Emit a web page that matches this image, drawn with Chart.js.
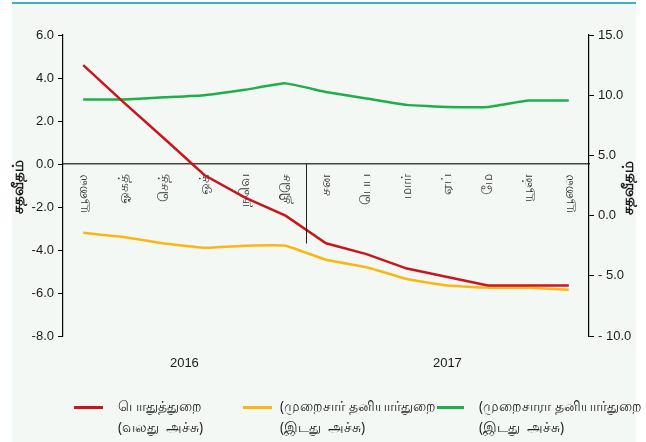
<!DOCTYPE html>
<html>
<head>
<meta charset="utf-8">
<script src="https://cdn.jsdelivr.net/npm/chart.js@4/dist/chart.umd.min.js"></script>
<style>
  html, body { margin: 0; padding: 0; background: #ffffff; }
  #wrap { position: relative; width: 646px; height: 442px; }
  #panel { position: absolute; left: 12px; top: 2px; width: 624px; height: 440px;
           background: #f4f8f5; border-top: 2px solid #3ab4c6; box-sizing: border-box; }
  #chart { position: absolute; left: 0; top: 0; }
  .lg-line { position: absolute; height: 3px; }
  .lg-text { position: absolute; font-family: "Noto Sans", "Liberation Sans", sans-serif;
             font-size: 13.5px; line-height: 21px; color: #222; white-space: pre; }
</style>
</head>
<body>
<div id="wrap">
  <div id="panel"></div>
  <canvas id="chart" width="646" height="442"></canvas>
  <div id="legend"></div>
</div>
<script>
// Month labels (Jul 2016 - Jul 2017)
const months = ["யூலை", "ஓகத்", "செத்", "ஒக்", "நவெ", "திசெ", "சன", "பெப", "மார்", "ஏப்", "மே", "யூன்", "யூலை"];

// Series values (percent)
const publicSector = [12.5, 9.4, 6.4, 3.35, 1.5, 0.0, -2.3, -3.2, -4.4, -5.1, -5.8, -5.8, -5.8];
const formalPrivate = [-3.2, -3.4, -3.7, -3.9, -3.8, -3.8, -4.45, -4.8, -5.35, -5.65, -5.75, -5.75, -5.85];
const informalPrivate = [3.0, 3.0, 3.1, 3.2, 3.45, 3.75, 3.35, 3.05, 2.75, 2.65, 2.65, 2.95, 2.95];

// Axis ticks
const leftTicks = [-8, -6, -4, -2, 0, 2, 4, 6];
const rightTicks = [-10, -5, 0, 5, 10, 15];

// Year groups: [label, first index, last index]
const years = [["2016", 0, 5], ["2017", 6, 12]];

const seriesNames = [
  ["பொதுத்துறை", "(வலது  அச்சு)"],
  ["(முறைசார் தனியார்துறை", "(இடது  அச்சு)"],
  ["(முறைசாரா தனியார்துறை", "(இடது  அச்சு)"],
];
const axisTitle = "சதவீதம்";

const RED = "#c8161d";
const YELLOW = "#fbb614";
const GREEN = "#1fae4b";
const NUM_FONT = { family: "'Liberation Sans', Arial, sans-serif", size: 13 };

/**
 * Extra drawing: year labels, Dec/Jan separator, axis titles
 */
const decorPlugin = {
  id: "decor",
  afterDraw(chart) {
    const { ctx, scales } = chart;
    const x = scales.x;
    const yL = scales.y;
    ctx.save();

    // separator between December and January
    const sepX = Math.round(x.getPixelForValue(5.5)) + 0.5;
    ctx.strokeStyle = "#222";
    ctx.lineWidth = 1;
    ctx.beginPath();
    ctx.moveTo(sepX, yL.getPixelForValue(0));
    ctx.lineTo(sepX, yL.getPixelForValue(-3.7));
    ctx.stroke();

    // year labels
    ctx.fillStyle = "#1a1a1a";
    ctx.font = "13px 'Liberation Sans', Arial, sans-serif";
    ctx.textAlign = "center";
    ctx.textBaseline = "middle";
    years.forEach(([label, a, b]) => {
      ctx.fillText(label, x.getPixelForValue((a + b) / 2), 363);
    });

    // axis titles (both read bottom-to-top)
    ctx.font = "bold 15px 'Noto Sans', sans-serif";
    [[19, 187], [629, 188]].forEach(([tx, ty]) => {
      ctx.save();
      ctx.translate(tx, ty);
      ctx.rotate(-Math.PI / 2);
      ctx.fillText(axisTitle, 0, 0);
      ctx.restore();
    });

    ctx.restore();
  },
};

const ctx = document.getElementById("chart").getContext("2d");
new Chart(ctx, {
  type: "line",
  data: {
    labels: months,
    datasets: [
      { label: seriesNames[0].join(" "), data: publicSector, yAxisID: "y1",
        borderColor: RED, borderWidth: 2.5, pointRadius: 0, tension: 0 },
      { label: seriesNames[1].join(" "), data: formalPrivate, yAxisID: "y",
        borderColor: YELLOW, borderWidth: 2.5, pointRadius: 0, tension: 0.1 },
      { label: seriesNames[2].join(" "), data: informalPrivate, yAxisID: "y",
        borderColor: GREEN, borderWidth: 2.5, pointRadius: 0, tension: 0.1 },
    ],
  },
  options: {
    responsive: false,
    animation: false,
    layout: { padding: { left: 12, right: 10, top: 35, bottom: 106 } },
    plugins: {
      legend: { display: false },
      tooltip: { enabled: false },
    },
    scales: {
      x: {
        type: "category",
        offset: true,
        position: { y: 0 },
        afterFit: (s) => { s.height = 0; },
        grid: { display: false, drawTicks: false },
        border: { display: true, color: "#444", width: 1.5 },
        ticks: {
          autoSkip: false,
          minRotation: 90,
          maxRotation: 90,
          padding: 10,
          color: "#333",
          font: { family: "'Noto Sans', sans-serif", size: 14 },
        },
      },
      y: {
        position: "left",
        min: -8,
        max: 6,
        afterFit: (s) => { s.width = 51; },
        afterBuildTicks: (s) => { s.ticks = leftTicks.map((v) => ({ value: v })); },
        grid: { drawOnChartArea: false, drawTicks: true, tickLength: 5, color: "#000" },
        border: { display: true, color: "#000", width: 1.2 },
        ticks: {
          padding: 4,
          color: "#1a1a1a",
          font: NUM_FONT,
          callback: (v) => Number(v).toFixed(1),
        },
      },
      y1: {
        position: "right",
        min: -10,
        max: 15,
        afterFit: (s) => { s.width = 47; },
        afterBuildTicks: (s) => { s.ticks = rightTicks.map((v) => ({ value: v })); },
        grid: { drawOnChartArea: false, drawTicks: true, tickLength: 5, color: "#000" },
        border: { display: true, color: "#000", width: 1.2 },
        ticks: {
          padding: 4,
          color: "#1a1a1a",
          font: NUM_FONT,
          callback: (v) => (v < 0 ? "- " + Math.abs(v).toFixed(1) : Number(v).toFixed(1)),
        },
      },
    },
  },
  plugins: [decorPlugin],
});

// HTML legend (two-line labels)
const legendEl = document.getElementById("legend");
const legendLayout = [
  { color: RED, lineX: 74, lineW: 29, textX: 118 },
  { color: YELLOW, lineX: 243, lineW: 29, textX: 280 },
  { color: GREEN, lineX: 437, lineW: 27, textX: 479 },
];
legendLayout.forEach((item, i) => {
  const line = document.createElement("div");
  line.className = "lg-line";
  line.style.left = item.lineX + "px";
  line.style.top = "406px";
  line.style.width = item.lineW + "px";
  line.style.background = item.color;
  legendEl.appendChild(line);

  const text = document.createElement("div");
  text.className = "lg-text";
  text.style.left = item.textX + "px";
  text.style.top = "396px";
  text.textContent = seriesNames[i].join("\n");
  legendEl.appendChild(text);
});
</script>
</body>
</html>
